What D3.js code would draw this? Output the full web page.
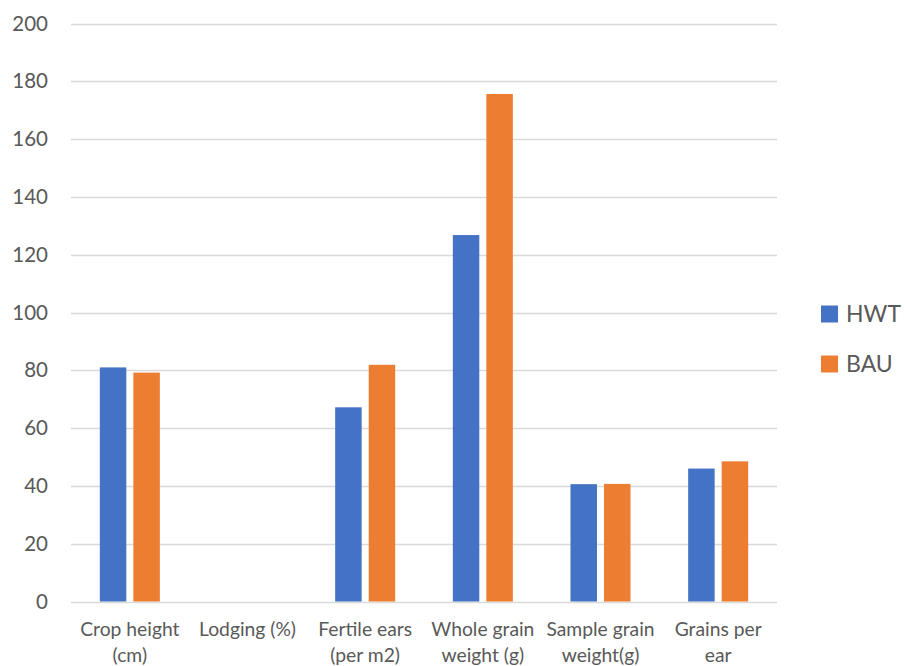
<!DOCTYPE html>
<html>
<head>
<meta charset="utf-8">
<script src="https://cdn.jsdelivr.net/npm/d3@7/dist/d3.min.js"></script>
<style>
  html, body { margin: 0; padding: 0; background: #fff; }
  svg text { font-family: Lato, "Liberation Sans", sans-serif; fill: #595959; }
</style>
</head>
<body>
<svg id="chart" width="905" height="666"></svg>
<script>
// Crop and yield measurements, HWT vs BAU
const categories = [
  ["Crop height", "(cm)"],
  ["Lodging (%)"],
  ["Fertile ears", "(per m2)"],
  ["Whole grain", "weight (g)"],
  ["Sample grain", "weight(g)"],
  ["Grains per", "ear"]
];
const seriesNames = ["HWT", "BAU"];
const hwtValues = [81.0, 0, 67.2, 126.8, 40.6, 46.0];
const bauValues = [79.2, 0, 81.9, 175.6, 40.7, 48.5];
const yTicks = [0, 20, 40, 60, 80, 100, 120, 140, 160, 180, 200];
const colors = ["#4472C4", "#ED7D31"];

const svg = d3.select("#chart");
const plot = { left: 71, right: 777, top: 23.5, bottom: 601.5 };

const x0 = d3.scaleBand()
  .domain(d3.range(categories.length))
  .range([plot.left, plot.right])
  .padding(0);

const x1 = d3.scaleBand()
  .domain(seriesNames)
  .range([0, x0.bandwidth()])
  .paddingInner(0.21)
  .paddingOuter(0.86);

const y = d3.scaleLinear().domain([0, 200]).range([plot.bottom, plot.top]);

const color = d3.scaleOrdinal().domain(seriesNames).range(colors);

// horizontal gridlines
svg.append("g")
  .selectAll("line")
  .data(yTicks)
  .join("line")
  .attr("x1", plot.left)
  .attr("x2", plot.right)
  .attr("y1", d => Math.round(y(d)) + 0.5)
  .attr("y2", d => Math.round(y(d)) + 0.5)
  .attr("stroke", "#d9d9d9")
  .attr("stroke-width", 1.3);

// y tick labels
svg.append("g")
  .selectAll("text")
  .data(yTicks)
  .join("text")
  .attr("x", 48)
  .attr("y", d => y(d))
  .attr("dy", "0.35em")
  .attr("text-anchor", "end")
  .style("font-size", "20.5px")
  .text(d => d);

// bars
const rows = categories.map((c, i) => ({ i, values: [hwtValues[i], bauValues[i]] }));
const groups = svg.append("g")
  .selectAll("g")
  .data(rows)
  .join("g")
  .attr("transform", d => `translate(${x0(d.i)},0)`);

groups.selectAll("rect")
  .data(d => seriesNames.map((s, k) => ({ s, v: d.values[k] })))
  .join("rect")
  .attr("x", d => x1(d.s))
  .attr("width", x1.bandwidth())
  .attr("y", d => y(d.v))
  .attr("height", d => y(0) - y(d.v))
  .attr("fill", d => color(d.s));

// category labels
const catLabels = svg.append("g")
  .selectAll("text")
  .data(categories)
  .join("text")
  .attr("text-anchor", "middle")
  .attr("x", (d, i) => x0(i) + x0.bandwidth() / 2)
  .attr("y", 636)
  .style("font-size", "19.3px");
catLabels.selectAll("tspan")
  .data(d => d)
  .join("tspan")
  .attr("x", function () { return d3.select(this.parentNode).attr("x"); })
  .attr("dy", (d, k) => k === 0 ? 0 : 26)
  .text(d => d);

// legend
const legend = svg.append("g")
  .selectAll("g")
  .data(seriesNames)
  .join("g")
  .attr("transform", (d, k) => `translate(821,${314 + k * 50})`);
legend.append("rect")
  .attr("x", 0)
  .attr("y", -8.5)
  .attr("width", 17)
  .attr("height", 17)
  .attr("fill", d => color(d));
legend.append("text")
  .attr("x", 25)
  .attr("y", 0)
  .attr("dy", "0.35em")
  .style("font-size", "23px")
  .text(d => d);
</script>
</body>
</html>
